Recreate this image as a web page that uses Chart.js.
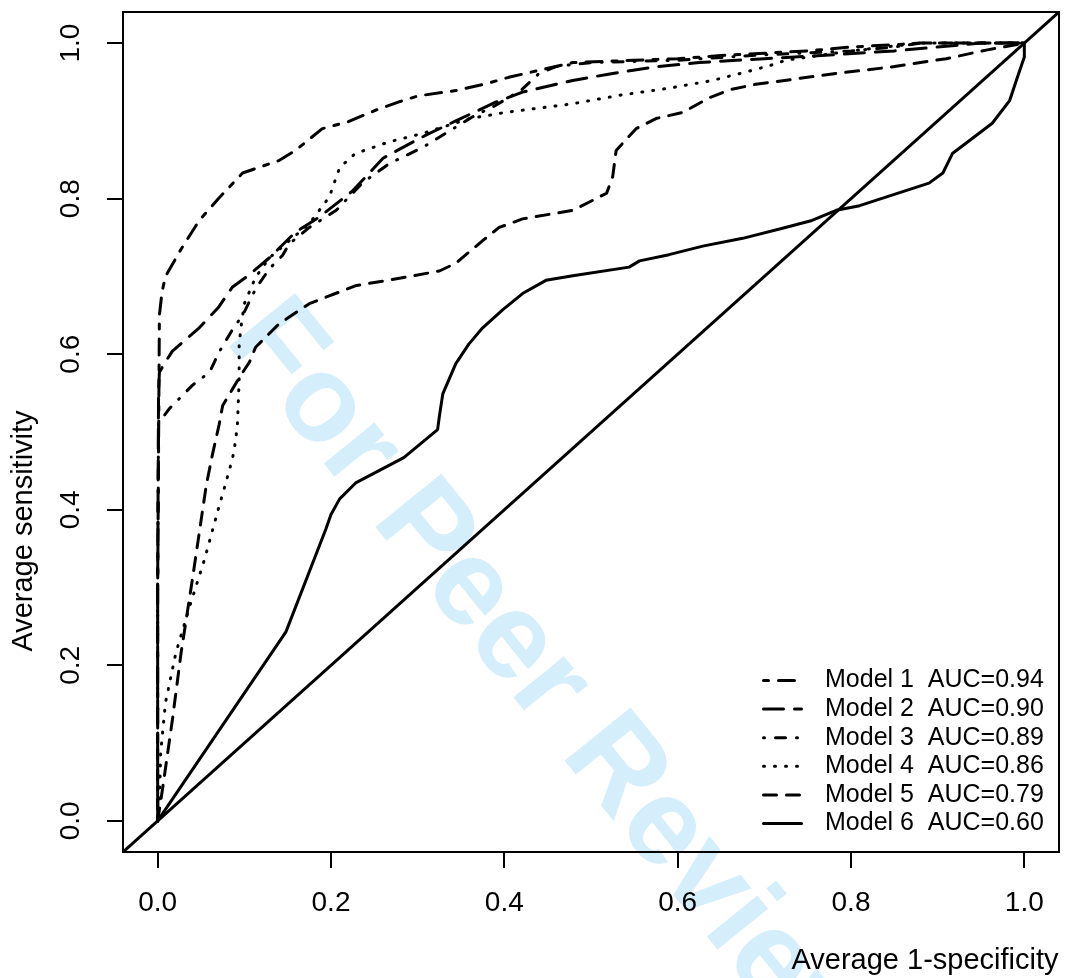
<!DOCTYPE html>
<html>
<head>
<meta charset="utf-8">
<title>Average ROC curves</title>
<script src="https://cdn.jsdelivr.net/npm/chart.js@4.4.1/dist/chart.umd.min.js"></script>
<style>
  html, body { margin: 0; padding: 0; background: #ffffff; }
  canvas { display: block; }
</style>
</head>
<body>
<canvas id="roc" width="1067" height="978"></canvas>
<script>
// ---- data ---------------------------------------------------------------
const modelNames = ['Model 1', 'Model 2', 'Model 3', 'Model 4', 'Model 5', 'Model 6'];
const aucValues  = [0.94, 0.90, 0.89, 0.86, 0.79, 0.60];

const model1Fpr = [0, 0, 0.002, 0.005, 0.009, 0.027, 0.048, 0.07, 0.098, 0.14, 0.159, 0.19, 0.22, 0.252, 0.28, 0.30, 0.344, 0.38, 0.405, 0.44, 0.479, 0.55, 0.60, 0.65, 0.70, 0.75, 0.80, 0.85, 0.88, 1.0];
const model1Tpr = [0, 0.30, 0.65, 0.68, 0.70, 0.735, 0.772, 0.80, 0.833, 0.849, 0.862, 0.89, 0.899, 0.914, 0.925, 0.932, 0.939, 0.948, 0.956, 0.965, 0.975, 0.978, 0.980, 0.984, 0.987, 0.990, 0.995, 0.998, 1.0, 1.0];

const model2Fpr = [0, 0, 0.001, 0.002, 0.009, 0.017, 0.048, 0.07, 0.086, 0.102, 0.129, 0.159, 0.186, 0.225, 0.26, 0.283, 0.31, 0.344, 0.39, 0.421, 0.479, 0.52, 0.571, 0.625, 0.70, 0.78, 0.85, 0.92, 0.95, 1.0];
const model2Tpr = [0, 0.30, 0.55, 0.577, 0.59, 0.604, 0.634, 0.66, 0.686, 0.699, 0.724, 0.757, 0.776, 0.81, 0.852, 0.866, 0.882, 0.90, 0.924, 0.937, 0.952, 0.96, 0.969, 0.975, 0.98, 0.985, 0.99, 0.997, 1.0, 1.0];

const model3Fpr = [0, 0, 0.001, 0.002, 0.0135, 0.04, 0.06, 0.071, 0.087, 0.098, 0.113, 0.129, 0.144, 0.152, 0.175, 0.206, 0.236, 0.267, 0.306, 0.344, 0.363, 0.39, 0.42, 0.44, 0.46, 0.50, 0.60, 0.70, 0.80, 0.85, 0.88, 1.0];
const model3Tpr = [0, 0.30, 0.51, 0.513, 0.53, 0.56, 0.577, 0.603, 0.633, 0.65, 0.684, 0.71, 0.727, 0.742, 0.763, 0.785, 0.82, 0.845, 0.866, 0.892, 0.905, 0.92, 0.94, 0.961, 0.97, 0.975, 0.978, 0.985, 0.99, 0.995, 1.0, 1.0];

const model4Fpr = [0, 0.002, 0.0035, 0.009, 0.021, 0.037, 0.054, 0.069, 0.083, 0.088, 0.092, 0.094, 0.094, 0.094, 0.096, 0.10, 0.113, 0.129, 0.148, 0.175, 0.198, 0.21, 0.228, 0.267, 0.306, 0.36, 0.402, 0.479, 0.533, 0.59, 0.64, 0.679, 0.706, 0.725, 0.80, 0.88, 1.0];
const model4Tpr = [0, 0.023, 0.088, 0.152, 0.216, 0.276, 0.336, 0.397, 0.452, 0.474, 0.508, 0.566, 0.577, 0.611, 0.634, 0.665, 0.699, 0.724, 0.742, 0.768, 0.802, 0.84, 0.858, 0.873, 0.884, 0.903, 0.911, 0.922, 0.933, 0.942, 0.952, 0.963, 0.971, 0.978, 0.99, 1.0, 1.0];

const model5Fpr = [0, 0.006, 0.017, 0.027, 0.04, 0.056, 0.063, 0.071, 0.075, 0.084, 0.096, 0.106, 0.113, 0.14, 0.175, 0.228, 0.286, 0.325, 0.344, 0.375, 0.394, 0.421, 0.479, 0.518, 0.525, 0.529, 0.552, 0.575, 0.606, 0.637, 0.66, 0.69, 0.783, 0.844, 0.91, 0.956, 1.0];
const model5Tpr = [0, 0.044, 0.13, 0.216, 0.31, 0.431, 0.47, 0.51, 0.534, 0.551, 0.573, 0.59, 0.609, 0.639, 0.665, 0.688, 0.699, 0.707, 0.717, 0.746, 0.763, 0.774, 0.785, 0.807, 0.828, 0.862, 0.89, 0.903, 0.911, 0.93, 0.94, 0.947, 0.961, 0.969, 0.98, 0.991, 1.0];

const model6Fpr = [0, 0.148, 0.194, 0.20, 0.21, 0.229, 0.284, 0.323, 0.325, 0.329, 0.344, 0.359, 0.375, 0.398, 0.421, 0.448, 0.479, 0.544, 0.556, 0.59, 0.629, 0.675, 0.721, 0.755, 0.783, 0.81, 0.89, 0.906, 0.917, 0.963, 0.983, 0.992, 1.0, 1.0];
const model6Tpr = [0, 0.243, 0.375, 0.394, 0.414, 0.435, 0.467, 0.503, 0.52, 0.549, 0.588, 0.613, 0.634, 0.657, 0.678, 0.695, 0.701, 0.712, 0.72, 0.728, 0.739, 0.749, 0.762, 0.772, 0.785, 0.791, 0.82, 0.833, 0.858, 0.897, 0.926, 0.956, 0.982, 1.0];

// chance line y = x, spanning the whole plot region
const chanceFpr = [-0.04, 1.04];
const chanceTpr = [-0.04, 1.04];

const axisTicks = [0, 0.2, 0.4, 0.6, 0.8, 1.0];
const xTitle = 'Average 1-specificity';
const yTitle = 'Average sensitivity';
const watermarkText = 'For Peer Review';

// ---- styling ------------------------------------------------------------
const FONT = "'Liberation Sans', Arial, Helvetica, sans-serif";
const LINE_W = 3;
// twodash, longdash, dotdash, dotted, dashed, solid (round caps)
const dashPatterns = [
  [5, 10, 16, 10],
  [20, 11],
  [1, 11, 10, 11],
  [1, 10],
  [13, 10],
  []
];

const fprSets = [model1Fpr, model2Fpr, model3Fpr, model4Fpr, model5Fpr, model6Fpr];
const tprSets = [model1Tpr, model2Tpr, model3Tpr, model4Tpr, model5Tpr, model6Tpr];

function toPoints(xs, ys) {
  return xs.map((x, i) => ({ x: x, y: ys[i] }));
}

const modelDatasets = modelNames.map((name, i) => ({
  label: name + '  AUC=' + aucValues[i].toFixed(2),
  data: toPoints(fprSets[i], tprSets[i]),
  showLine: true,
  borderColor: '#000000',
  backgroundColor: '#000000',
  borderWidth: LINE_W,
  borderDash: dashPatterns[i],
  borderCapStyle: 'round',
  borderJoinStyle: 'round',
  pointRadius: 0,
  pointHoverRadius: 0,
  tension: 0,
  fill: false,
  clip: 0
}));

const chanceDataset = {
  label: 'chance',
  data: toPoints(chanceFpr, chanceTpr),
  showLine: true,
  borderColor: '#000000',
  borderWidth: LINE_W,
  borderCapStyle: 'butt',
  pointRadius: 0,
  tension: 0,
  fill: false,
  clip: 0
};

// ---- plugins: watermark, frame, axis titles, legend --------------------
const decorations = {
  id: 'decorations',
  beforeDraw(chart) {
    const ctx = chart.ctx;
    ctx.save();
    ctx.translate(224, 340);
    ctx.rotate(51 * Math.PI / 180);
    ctx.font = 'bold 123px ' + FONT;
    ctx.fillStyle = '#d4eefb';
    ctx.textAlign = 'left';
    ctx.textBaseline = 'alphabetic';
    ctx.fillText(watermarkText, 0, 0);
    ctx.restore();
  },
  afterDraw(chart) {
    const ctx = chart.ctx;
    const a = chart.chartArea;
    ctx.save();
    // frame round the plot region
    ctx.strokeStyle = '#000000';
    ctx.lineWidth = 2;
    ctx.setLineDash([]);
    ctx.strokeRect(a.left, a.top, a.right - a.left, a.bottom - a.top);

    // axis titles
    ctx.fillStyle = '#000000';
    ctx.font = '29px ' + FONT;
    ctx.textAlign = 'center';
    ctx.textBaseline = 'middle';
    ctx.fillText(xTitle, 925, 961);
    ctx.save();
    ctx.translate(24, 531);
    ctx.rotate(-Math.PI / 2);
    ctx.fillText(yTitle, 0, 0);
    ctx.restore();

    // legend
    ctx.font = '25px ' + FONT;
    ctx.textAlign = 'left';
    ctx.textBaseline = 'middle';
    chart.data.datasets.forEach((ds, i) => {
      if (i >= modelNames.length) return;
      const y = 680.5 + i * 28.6;
      ctx.beginPath();
      ctx.setLineDash(ds.borderDash);
      ctx.lineDashOffset = 0;
      ctx.lineCap = 'round';
      ctx.lineWidth = LINE_W;
      ctx.strokeStyle = '#000000';
      ctx.moveTo(763.5, y);
      ctx.lineTo(801.5, y);
      ctx.stroke();
      ctx.setLineDash([]);
      ctx.fillText(ds.label, 825, y);
    });
    ctx.restore();
  }
};

const tickFont = { family: FONT, size: 28 };

new Chart(document.getElementById('roc'), {
  type: 'scatter',
  data: { datasets: modelDatasets.concat([chanceDataset]) },
  options: {
    responsive: false,
    animation: false,
    devicePixelRatio: 1,
    layout: { padding: { left: 0, top: 12, right: 8, bottom: 0 } },
    plugins: {
      legend: { display: false },
      tooltip: { enabled: false }
    },
    events: [],
    scales: {
      x: {
        type: 'linear',
        min: -0.04,
        max: 1.04,
        afterBuildTicks: (scale) => { scale.ticks = axisTicks.map(v => ({ value: v })); },
        afterFit: (scale) => {
          scale.height = 126;
          scale.paddingLeft = 0;
          scale.paddingRight = 0;
        },
        ticks: {
          font: tickFont,
          color: '#000000',
          padding: 18,
          minRotation: 0,
          maxRotation: 0,
          callback: (v) => Number(v).toFixed(1)
        },
        grid: {
          display: true,
          drawOnChartArea: false,
          drawTicks: true,
          tickLength: 16,
          color: '#000000',
          lineWidth: 2
        },
        border: { display: true, color: '#000000', width: 2 }
      },
      y: {
        type: 'linear',
        min: -0.04,
        max: 1.04,
        afterBuildTicks: (scale) => { scale.ticks = axisTicks.map(v => ({ value: v })); },
        afterFit: (scale) => {
          scale.width = 123;
          scale.paddingTop = 0;
          scale.paddingBottom = 0;
        },
        ticks: {
          font: tickFont,
          color: '#000000',
          padding: 16,
          minRotation: 90,
          maxRotation: 90,
          crossAlign: 'center',
          callback: (v) => Number(v).toFixed(1)
        },
        grid: {
          display: true,
          drawOnChartArea: false,
          drawTicks: true,
          tickLength: 16,
          color: '#000000',
          lineWidth: 2
        },
        border: { display: true, color: '#000000', width: 2 }
      }
    }
  },
  plugins: [decorations]
});
</script>
</body>
</html>
